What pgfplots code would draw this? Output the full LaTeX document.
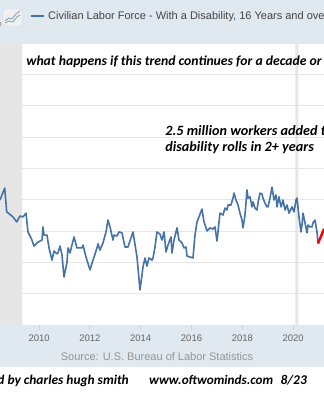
\documentclass[border=0pt]{standalone}
\usepackage{fontspec}
\setmainfont{Liberation Sans}
\newfontfamily\calibri{Carlito}
\usepackage{pgfplots}
\pgfplotsset{compat=1.18}
\definecolor{band}{HTML}{E1E9F0}
\definecolor{fredblue}{HTML}{4572A7}
\definecolor{gridc}{HTML}{E6E6E6}
\definecolor{shade}{HTML}{E6E6E6}
\definecolor{tickc}{HTML}{C8D4E0}
\definecolor{labc}{HTML}{666666}
\definecolor{srcc}{HTML}{959595}
\definecolor{hdrc}{HTML}{444444}
\newcommand{\annfont}[1]{\calibri\bfseries\itshape\fontsize{#1}{16bp}\selectfont}
\begin{document}
\begin{tikzpicture}[x=1bp,y=1bp]
\useasboundingbox (0,0) rectangle (324,400);
\clip (0,0) rectangle (324,400);
\fill[white] (0,0) rectangle (324,400);
\fill[band] (0,357) rectangle (324,400);
\fill[band] (0,33) rectangle (324,75);
% header icon
\fill[gray!70] (-2,374) rectangle (1.5,378);
\draw[rounded corners=1.5bp, fill=gray!12, draw=gray!30] (3,374) rectangle (22,391);
\draw[fredblue!70, line width=0.8bp] (5,379) -- (9,382) -- (12,381) -- (16,386) -- (20,389);
\draw[green!45!black!55, line width=0.8bp] (5,377) -- (9,379) -- (13,378) -- (17,383) -- (20,385);
\draw[fredblue, line width=1.3bp] (31,384) -- (44,384);
\node[anchor=base west, inner sep=0, text=hdrc] at (48,381) {\fontsize{11bp}{13bp}\selectfont Civilian Labor Force - With a Disability, 16 Years and over};
\begin{axis}[
  at={(0bp,75bp)}, anchor=south west, scale only axis,
  width=324bp, height=282bp,
  xmin=2008.46, xmax=2021.216, ymin=0, ymax=9,
  axis line style={draw=none},
  ytick={0,1,...,9}, yticklabels={},
  ymajorgrids, grid style={gridc, line width=0.9bp},
  y tick style={draw=none},
  xtick={2010,2012,2014,2016,2018,2020},
  xticklabels={2010,2012,2014,2016,2018,2020},
  xtick pos=bottom, tick align=outside, major tick length=5bp,
  x tick style={tickc, line width=0.9bp},
  xticklabel style={anchor=base, yshift=-11bp, font=\fontsize{9.5bp}{11bp}\selectfont, text=labc},
  clip=true,
]
\addplot[fill=shade, draw=none] coordinates {(2007.9,0) (2007.9,9) (2009.33,9) (2009.33,0)} \closedcycle;
\addplot[fill=shade, draw=none] coordinates {(2020.09,0) (2020.09,9) (2020.21,9) (2020.21,0)} \closedcycle;
\addplot[fredblue, line width=1.6bp, line join=round] coordinates {
(2008.46,3.99) (2008.645,4.37) (2008.724,3.61) (2008.787,3.57) (2008.972,3.45)
(2009.117,3.29) (2009.247,3.48) (2009.366,3.45) (2009.484,3.57) (2009.562,2.97)
(2009.72,2.71) (2009.799,2.52) (2009.917,2.62) (2010.035,2.68) (2010.114,2.71)
(2010.153,3.13) (2010.192,2.87) (2010.31,2.87) (2010.389,2.46) (2010.507,2.07)
(2010.586,2.36) (2010.704,2.27) (2010.743,2.30) (2010.822,2.52) (2010.901,2.23)
(2010.98,1.53) (2011.098,2.01) (2011.137,2.46) (2011.216,2.30) (2011.373,2.81)
(2011.491,2.46) (2011.688,2.46) (2011.728,2.55) (2011.846,2.17) (2012.003,1.76)
(2012.121,2.07) (2012.279,2.46) (2012.318,2.59) (2012.397,2.39) (2012.515,2.62)
(2012.633,2.97) (2012.712,3.35) (2012.791,3.13) (2012.909,2.71) (2012.948,2.87)
(2013.066,2.84) (2013.145,2.97) (2013.263,2.94) (2013.381,2.49) (2013.499,2.49)
(2013.617,2.78) (2013.696,2.97) (2013.854,2.17) (2013.972,1.12) (2014.09,1.85)
(2014.169,2.14) (2014.247,1.88) (2014.326,2.14) (2014.444,2.07) (2014.484,2.14)
(2014.562,2.49) (2014.641,2.97) (2014.759,2.90) (2014.838,2.71) (2014.917,2.97)
(2014.995,2.33) (2015.074,2.55) (2015.192,2.81) (2015.232,2.30) (2015.31,2.71)
(2015.429,3.10) (2015.507,2.71) (2015.625,2.62) (2015.704,2.46) (2015.783,2.49)
(2015.822,2.20) (2015.94,2.17) (2016.058,2.14) (2016.137,2.87) (2016.216,3.29)
(2016.413,3.70) (2016.491,3.29) (2016.61,3.00) (2016.728,3.10) (2016.846,3.06)
(2016.925,3.13) (2017.003,2.68) (2017.121,3.57) (2017.24,3.51) (2017.318,3.73)
(2017.397,3.67) (2017.436,3.83) (2017.554,3.83) (2017.633,4.05) (2017.673,4.21)
(2017.751,3.99) (2017.83,3.83) (2017.909,3.57) (2017.988,3.35) (2018.027,3.10)
(2018.106,3.51) (2018.184,4.31) (2018.224,4.05) (2018.303,4.09) (2018.381,3.77)
(2018.421,3.93) (2018.499,3.73) (2018.578,3.67) (2018.617,3.89) (2018.696,4.21)
(2018.775,4.18) (2018.814,4.05) (2018.893,3.89) (2018.972,3.77) (2019.011,3.77)
(2019.09,4.05) (2019.169,4.40) (2019.247,3.99) (2019.326,4.15) (2019.366,3.77)
(2019.444,4.09) (2019.523,3.77) (2019.602,3.99) (2019.68,3.67) (2019.759,3.83)
(2019.838,3.57) (2019.956,3.77) (2020.035,3.61) (2020.114,3.99) (2020.153,4.05)
(2020.232,3.45) (2020.31,2.97) (2020.35,3.19) (2020.389,3.57) (2020.468,3.26)
(2020.547,2.94) (2020.586,3.19) (2020.665,3.13) (2020.743,3.13) (2020.783,3.26)
(2020.862,3.35) (2020.94,2.97) (2020.98,2.62) (2021.098,2.84) (2021.216,3.03)
};
\addplot[red, line width=2.4bp] coordinates {(2020.98,2.60) (2021.216,3.07)};
\end{axis}
\node[anchor=base west, inner sep=0] at (23,335) {\annfont{13.7bp} what happens if this trend continues for a decade or more?};
\node[anchor=base west, inner sep=0] at (162,265) {\annfont{14.2bp} 2.5 million workers added to the};
\node[anchor=base west, inner sep=0] at (162,249) {\annfont{14.2bp} disability rolls in 2+ years};
\node[anchor=base, inner sep=0, text=srcc] at (157,40) {\fontsize{11bp}{13bp}\selectfont Source: U.S. Bureau of Labor Statistics};
\node[anchor=base east, inner sep=0] at (129,16) {\annfont{13.4bp} Chart annotated by charles hugh smith};
\node[anchor=base west, inner sep=0] at (146,16) {\annfont{13.2bp} www.oftwominds.com};
\node[anchor=base east, inner sep=0] at (307,16) {\annfont{13.4bp} 8/23};
\end{tikzpicture}
\end{document}
